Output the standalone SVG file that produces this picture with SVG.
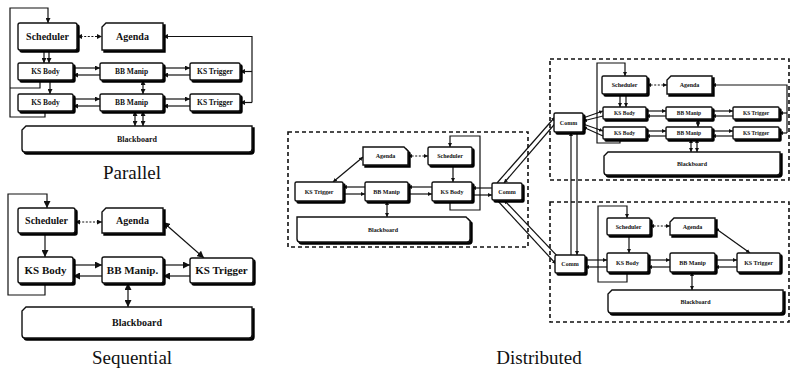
<svg xmlns="http://www.w3.org/2000/svg" width="791" height="368" viewBox="0 0 791 368">
<defs>
<style>
.b{fill:#fff;stroke:#111;stroke-width:1.4;filter:url(#ds)}
.t{font-family:"Liberation Serif","Times New Roman",serif;font-weight:bold;fill:#111;text-anchor:middle}
.c{fill:none;stroke:#111;stroke-width:1.2}
.d{stroke-dasharray:2 1.6}
.g{fill:none;stroke:#111;stroke-width:1.6;stroke-dasharray:4 3}
.cap{font-family:"Liberation Serif","Times New Roman",serif;font-size:19px;fill:#111;text-anchor:middle}
</style>
<filter id="ds" x="-10%" y="-10%" width="130%" height="150%">
<feOffset in="SourceAlpha" dx="2" dy="2" result="o"/>
<feMerge><feMergeNode in="o"/><feMergeNode in="SourceGraphic"/></feMerge>
</filter>
<marker id="aL" viewBox="0 0 8 8" refX="8" refY="4" markerWidth="7" markerHeight="7" markerUnits="userSpaceOnUse" orient="auto-start-reverse"><path d="M0,0L8,4L0,8z" fill="#111"/></marker>
<marker id="aM" viewBox="0 0 8 8" refX="8" refY="4" markerWidth="5" markerHeight="5" markerUnits="userSpaceOnUse" orient="auto-start-reverse"><path d="M0,0L8,4L0,8z" fill="#111"/></marker>
<marker id="aS" viewBox="0 0 8 8" refX="8" refY="4" markerWidth="4" markerHeight="4" markerUnits="userSpaceOnUse" orient="auto-start-reverse"><path d="M0,0L8,4L0,8z" fill="#111"/></marker>
</defs>
<rect width="791" height="368" fill="#fff"/>

<!-- group frames of the distributed layout -->
<g id="frames">
<rect class="g" x="288" y="132" width="240" height="115"/>
<rect class="g" x="550" y="59" width="239" height="121"/>
<rect class="g" x="550" y="202" width="239" height="120"/>
</g>

<g id="connectors">
<!-- parallel -->
<path class="c d" d="M77,36.5H102" marker-start="url(#aM)" marker-end="url(#aM)"/>
<path class="c" d="M252,102.5V36.5H163" marker-end="url(#aM)"/>
<path class="c" d="M252,71.5H240" marker-end="url(#aM)"/>
<path class="c" d="M252,102.5H240" marker-end="url(#aM)"/>
<path class="c" d="M44,50V63" marker-end="url(#aM)"/>
<path class="c" d="M49,50V63" marker-end="url(#aM)"/>
<path class="c" d="M50,80V94" marker-end="url(#aM)"/>
<path class="c" d="M45,111V117H10V8H48V23" marker-end="url(#aM)"/>
<path class="c" d="M40,80V88H10"/>
<path class="c" d="M73,68H100" marker-end="url(#aM)"/>
<path class="c" d="M100,75H73" marker-end="url(#aM)"/>
<path class="c" d="M163,68H190" marker-end="url(#aM)"/>
<path class="c" d="M190,75H163" marker-end="url(#aM)"/>
<path class="c" d="M73,99H100" marker-end="url(#aM)"/>
<path class="c" d="M100,106H73" marker-end="url(#aM)"/>
<path class="c" d="M163,99H190" marker-end="url(#aM)"/>
<path class="c" d="M190,106H163" marker-end="url(#aM)"/>
<path class="c" d="M143,80V94" marker-start="url(#aM)" marker-end="url(#aM)"/>
<path class="c" d="M135,111V126" marker-start="url(#aM)" marker-end="url(#aM)"/>
<path class="c" d="M143,111V126" marker-start="url(#aM)" marker-end="url(#aM)"/>

<!-- sequential -->
<path class="c" d="M45,283V295H8V194H47V208" marker-end="url(#aL)"/>
<path class="c" d="M45,233V257" marker-end="url(#aL)"/>
<path class="c d" d="M75,222H102" marker-start="url(#aM)" marker-end="url(#aM)"/>
<path class="c" d="M163,222L204,258" marker-start="url(#aL)" marker-end="url(#aL)"/>
<path class="c" d="M73,265H102" marker-end="url(#aL)"/>
<path class="c" d="M102,276H73" marker-end="url(#aL)"/>
<path class="c" d="M163,265H190" marker-end="url(#aL)"/>
<path class="c" d="M190,276H163" marker-end="url(#aL)"/>
<path class="c" d="M128,283V307" marker-start="url(#aL)" marker-end="url(#aL)"/>

<!-- distributed, left site -->
<path class="c" d="M450,201V210H480V136H450V147" marker-end="url(#aS)"/>
<path class="c" d="M453,165V182" marker-end="url(#aS)"/>
<path class="c d" d="M408,156H428" marker-start="url(#aS)" marker-end="url(#aS)"/>
<path class="c" d="M363,157L333,182" marker-start="url(#aS)" marker-end="url(#aS)"/>
<path class="c" d="M432,187H408" marker-end="url(#aS)"/>
<path class="c" d="M408,194H432" marker-end="url(#aS)"/>
<path class="c" d="M365,187H343" marker-end="url(#aS)"/>
<path class="c" d="M343,194H365" marker-end="url(#aS)"/>
<path class="c" d="M492,188H472" marker-end="url(#aS)"/>
<path class="c" d="M472,195H492" marker-end="url(#aS)"/>
<path class="c" d="M387,201V217" marker-start="url(#aS)" marker-end="url(#aS)"/>

<!-- links between communication nodes -->
<path class="c" d="M497,183L555,117" marker-end="url(#aS)"/>
<path class="c" d="M559,119L504,183" marker-end="url(#aS)"/>
<path class="c" d="M497,200L556,264" marker-end="url(#aS)"/>
<path class="c" d="M561,260L504,200" marker-end="url(#aS)"/>
<path class="c" d="M571,255V132" marker-end="url(#aS)"/>
<path class="c" d="M577,132V255" marker-end="url(#aS)"/>

<!-- distributed, upper site -->
<path class="c" d="M620,139V143H597V63H625V76" marker-end="url(#aS)"/>
<path class="c" d="M620,94V107" marker-end="url(#aS)"/>
<path class="c" d="M626,94V107" marker-end="url(#aS)"/>
<path class="c d" d="M647,85H667" marker-start="url(#aS)" marker-end="url(#aS)"/>
<path class="c" d="M787,133V85H712" marker-end="url(#aS)"/>
<path class="c" d="M787,113H779" marker-end="url(#aS)"/>
<path class="c" d="M787,133H779" marker-end="url(#aS)"/>
<path class="c" d="M583,118L603,111" marker-end="url(#aS)"/>
<path class="c" d="M603,116L583,121" marker-end="url(#aS)"/>
<path class="c" d="M583,124L603,131" marker-end="url(#aS)"/>
<path class="c" d="M603,136L583,127" marker-end="url(#aS)"/>
<path class="c" d="M646,111H666" marker-end="url(#aS)"/>
<path class="c" d="M666,116H646" marker-end="url(#aS)"/>
<path class="c" d="M712,111H733" marker-end="url(#aS)"/>
<path class="c" d="M733,116H712" marker-end="url(#aS)"/>
<path class="c" d="M646,131H666" marker-end="url(#aS)"/>
<path class="c" d="M666,136H646" marker-end="url(#aS)"/>
<path class="c" d="M712,131H733" marker-end="url(#aS)"/>
<path class="c" d="M733,136H712" marker-end="url(#aS)"/>
<path class="c" d="M698,119V127" marker-start="url(#aS)" marker-end="url(#aS)"/>
<path class="c" d="M691,139V152" marker-start="url(#aS)" marker-end="url(#aS)"/>
<path class="c" d="M697,139V152" marker-start="url(#aS)" marker-end="url(#aS)"/>

<!-- distributed, lower site -->
<path class="c" d="M627,272V282H598V206H627V218" marker-end="url(#aS)"/>
<path class="c" d="M629,235V253" marker-end="url(#aS)"/>
<path class="c d" d="M650,226H670" marker-start="url(#aS)" marker-end="url(#aS)"/>
<path class="c" d="M715,228L750,253" marker-start="url(#aS)" marker-end="url(#aS)"/>
<path class="c" d="M585,260H607" marker-end="url(#aS)"/>
<path class="c" d="M607,267H585" marker-end="url(#aS)"/>
<path class="c" d="M648,260H670" marker-end="url(#aS)"/>
<path class="c" d="M670,267H648" marker-end="url(#aS)"/>
<path class="c" d="M715,260H737" marker-end="url(#aS)"/>
<path class="c" d="M737,267H715" marker-end="url(#aS)"/>
<path class="c" d="M692,272V290" marker-start="url(#aS)" marker-end="url(#aS)"/>
</g>

<!-- parallel -->
<g id="p-scheduler"><rect class="b" x="18" y="23" width="59" height="27" rx="2"/><text class="t" x="47.5" y="40" font-size="10">Scheduler</text></g>
<g id="p-agenda"><path class="b" d="M106,23H163V50H102V27Z"/><text class="t" x="132.5" y="40" font-size="10">Agenda</text></g>
<g id="p-ksbody1"><rect class="b" x="18" y="63" width="55" height="17" rx="1.5"/><text class="t" x="45.5" y="74" font-size="7.5">KS Body</text></g>
<g id="p-bbmanip1"><rect class="b" x="100" y="63" width="63" height="17" rx="1.5"/><text class="t" x="131.5" y="74" font-size="7.5">BB Manip</text></g>
<g id="p-kstrigger1"><rect class="b" x="190" y="63" width="50" height="17" rx="1.5"/><text class="t" x="215" y="74" font-size="7.5">KS Trigger</text></g>
<g id="p-ksbody2"><rect class="b" x="18" y="94" width="55" height="17" rx="1.5"/><text class="t" x="45.5" y="105" font-size="7.5">KS Body</text></g>
<g id="p-bbmanip2"><rect class="b" x="100" y="94" width="63" height="17" rx="1.5"/><text class="t" x="131.5" y="105" font-size="7.5">BB Manip</text></g>
<g id="p-kstrigger2"><rect class="b" x="190" y="94" width="50" height="17" rx="1.5"/><text class="t" x="215" y="105" font-size="7.5">KS Trigger</text></g>
<g id="p-blackboard"><path class="b" d="M26,126H252V149Q252,152 249,152H25Q22,152 22,149V130Z"/><text class="t" x="137" y="142" font-size="8">Blackboard</text></g>
<text class="cap" x="132" y="179">Parallel</text>

<!-- sequential -->
<g id="s-scheduler"><rect class="b" x="18" y="208" width="57" height="25" rx="2"/><text class="t" x="46.5" y="224" font-size="10">Scheduler</text></g>
<g id="s-agenda"><path class="b" d="M106,208H163V233H102V212Z"/><text class="t" x="132.5" y="224" font-size="10">Agenda</text></g>
<g id="s-ksbody"><rect class="b" x="18" y="257" width="55" height="26" rx="2"/><text class="t" x="45.5" y="274" font-size="11">KS Body</text></g>
<g id="s-bbmanip"><rect class="b" x="102" y="257" width="61" height="26" rx="2"/><text class="t" x="132.5" y="274" font-size="11">BB Manip.</text></g>
<g id="s-kstrigger"><rect class="b" x="190" y="258" width="63" height="25" rx="2"/><text class="t" x="221.5" y="274" font-size="11">KS Trigger</text></g>
<g id="s-blackboard"><path class="b" d="M26,307H252V335Q252,338 249,338H25Q22,338 22,335V311Z"/><text class="t" x="137" y="326" font-size="10">Blackboard</text></g>
<text class="cap" x="132" y="364">Sequential</text>

<!-- distributed, left site -->
<g id="dl-agenda"><path class="b" d="M363,147H404L408,151V165H363Z"/><text class="t" x="385.5" y="158" font-size="6">Agenda</text></g>
<g id="dl-scheduler"><rect class="b" x="428" y="147" width="44" height="18" rx="1.5"/><text class="t" x="450" y="158" font-size="6">Scheduler</text></g>
<g id="dl-kstrigger"><rect class="b" x="295" y="182" width="48" height="19" rx="1.5"/><text class="t" x="319" y="193.5" font-size="6">KS Trigger</text></g>
<g id="dl-bbmanip"><rect class="b" x="365" y="182" width="43" height="19" rx="1.5"/><text class="t" x="386.5" y="193.5" font-size="6">BB Manip</text></g>
<g id="dl-ksbody"><rect class="b" x="432" y="182" width="40" height="19" rx="1.5"/><text class="t" x="452" y="193.5" font-size="6">KS Body</text></g>
<g id="dl-comm"><rect class="b" x="492" y="183" width="30" height="17" rx="1.5"/><text class="t" x="507" y="193.5" font-size="6">Comm</text></g>
<g id="dl-blackboard"><path class="b" d="M297,217H466L470,221V239Q470,242 467,242H300Q297,242 297,239Z"/><text class="t" x="383" y="232" font-size="6">Blackboard</text></g>

<!-- distributed, upper site -->
<g id="du-comm"><rect class="b" x="554" y="113" width="29" height="19" rx="1.5"/><text class="t" x="568.5" y="124.5" font-size="6">Comm</text></g>
<g id="du-scheduler"><rect class="b" x="602" y="76" width="45" height="18" rx="1.5"/><text class="t" x="624.5" y="87" font-size="6">Scheduler</text></g>
<g id="du-agenda"><path class="b" d="M671,76H712V94H667V80Z"/><text class="t" x="689.5" y="87" font-size="6">Agenda</text></g>
<g id="du-ksbody1"><rect class="b" x="603" y="107" width="43" height="12" rx="1"/><text class="t" x="624.5" y="115" font-size="5.5">KS Body</text></g>
<g id="du-bbmanip1"><rect class="b" x="666" y="107" width="46" height="12" rx="1"/><text class="t" x="689" y="115" font-size="5.5">BB Manip</text></g>
<g id="du-kstrigger1"><rect class="b" x="733" y="107" width="46" height="12" rx="1"/><text class="t" x="756" y="115" font-size="5.5">KS Trigger</text></g>
<g id="du-ksbody2"><rect class="b" x="603" y="127" width="43" height="12" rx="1"/><text class="t" x="624.5" y="135" font-size="5.5">KS Body</text></g>
<g id="du-bbmanip2"><rect class="b" x="666" y="127" width="46" height="12" rx="1"/><text class="t" x="689" y="135" font-size="5.5">BB Manip</text></g>
<g id="du-kstrigger2"><rect class="b" x="733" y="127" width="46" height="12" rx="1"/><text class="t" x="756" y="135" font-size="5.5">KS Trigger</text></g>
<g id="du-blackboard"><path class="b" d="M608,152H780V172Q780,175 777,175H607Q604,175 604,172V156Z"/><text class="t" x="692" y="166" font-size="6">Blackboard</text></g>

<!-- distributed, lower site -->
<g id="dd-comm"><rect class="b" x="555" y="255" width="30" height="18" rx="1.5"/><text class="t" x="570" y="266" font-size="6">Comm</text></g>
<g id="dd-scheduler"><rect class="b" x="607" y="218" width="43" height="17" rx="1.5"/><text class="t" x="628.5" y="228.5" font-size="6">Scheduler</text></g>
<g id="dd-agenda"><path class="b" d="M674,218H715V235H670V222Z"/><text class="t" x="692.5" y="228.5" font-size="6">Agenda</text></g>
<g id="dd-ksbody"><rect class="b" x="607" y="253" width="41" height="19" rx="1.5"/><text class="t" x="627.5" y="264.5" font-size="6">KS Body</text></g>
<g id="dd-bbmanip"><rect class="b" x="670" y="253" width="45" height="19" rx="1.5"/><text class="t" x="692.5" y="264.5" font-size="6">BB Manip</text></g>
<g id="dd-kstrigger"><rect class="b" x="737" y="253" width="43" height="19" rx="1.5"/><text class="t" x="758.5" y="264.5" font-size="6">KS Trigger</text></g>
<g id="dd-blackboard"><path class="b" d="M612,290H783V310Q783,313 780,313H611Q608,313 608,310V294Z"/><text class="t" x="695.5" y="304" font-size="6">Blackboard</text></g>
<text class="cap" x="539" y="364">Distributed</text>
</svg>
